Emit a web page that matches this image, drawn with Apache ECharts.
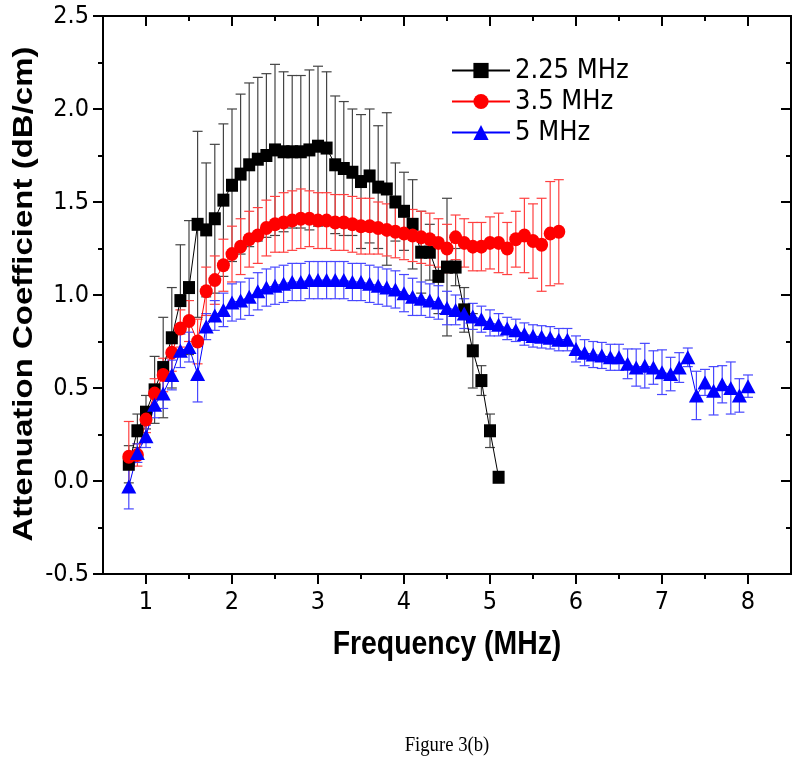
<!DOCTYPE html>
<html>
<head>
<meta charset="utf-8">
<script src="https://cdn.jsdelivr.net/npm/echarts@6/dist/echarts.min.js"></script>
<style>
html, body { margin: 0; padding: 0; background: #fff; }
#chart { width: 800px; height: 766px; }
</style>
</head>
<body>
<div id="chart"></div>
<script>
// 2.25 MHz transducer
var freq225 = [0.8, 0.9, 1.0, 1.1, 1.2, 1.3, 1.4, 1.5, 1.6, 1.7, 1.8, 1.9, 2.0, 2.1, 2.2, 2.3, 2.4, 2.5, 2.6, 2.7, 2.8, 2.9, 3.0, 3.1, 3.2, 3.3, 3.4, 3.5, 3.6, 3.7, 3.8, 3.9, 4.0, 4.1, 4.2, 4.3, 4.4, 4.5, 4.6, 4.7, 4.8, 4.9, 5.0, 5.1]
var att225 = [0.09, 0.27, 0.37, 0.49, 0.61, 0.77, 0.97, 1.04, 1.38, 1.35, 1.41, 1.51, 1.59, 1.65, 1.70, 1.73, 1.75, 1.78, 1.77, 1.77, 1.77, 1.78, 1.80, 1.79, 1.70, 1.68, 1.66, 1.61, 1.64, 1.58, 1.57, 1.50, 1.45, 1.38, 1.23, 1.23, 1.10, 1.15, 1.15, 0.92, 0.70, 0.54, 0.27, 0.02]
var err225 = [0.10, 0.09, 0.09, 0.18, 0.27, 0.27, 0.30, 0.36, 0.50, 0.36, 0.40, 0.41, 0.41, 0.43, 0.44, 0.44, 0.44, 0.46, 0.43, 0.41, 0.41, 0.43, 0.43, 0.41, 0.37, 0.36, 0.34, 0.36, 0.36, 0.33, 0.41, 0.21, 0.21, 0.24, 0.22, 0.15, 0.20, 0.37, 0.10, 0.12, 0.20, 0.08, 0.09, 0.02]

// 3.5 MHz transducer
var freq35 = [0.8, 0.9, 1.0, 1.1, 1.2, 1.3, 1.4, 1.5, 1.6, 1.7, 1.8, 1.9, 2.0, 2.1, 2.2, 2.3, 2.4, 2.5, 2.6, 2.7, 2.8, 2.9, 3.0, 3.1, 3.2, 3.3, 3.4, 3.5, 3.6, 3.7, 3.8, 3.9, 4.0, 4.1, 4.2, 4.3, 4.4, 4.5, 4.6, 4.7, 4.8, 4.9, 5.0, 5.1, 5.2, 5.3, 5.4, 5.5, 5.6, 5.7, 5.8]
var att35 = [0.13, 0.14, 0.33, 0.47, 0.57, 0.69, 0.82, 0.86, 0.75, 1.02, 1.08, 1.16, 1.22, 1.26, 1.30, 1.32, 1.36, 1.38, 1.39, 1.40, 1.41, 1.41, 1.40, 1.40, 1.39, 1.39, 1.38, 1.37, 1.37, 1.36, 1.35, 1.34, 1.33, 1.32, 1.31, 1.30, 1.28, 1.25, 1.31, 1.28, 1.26, 1.26, 1.28, 1.28, 1.25, 1.30, 1.32, 1.29, 1.27, 1.33, 1.34]
var err35 = [0.19, 0.06, 0.07, 0.08, 0.09, 0.10, 0.10, 0.11, 0.12, 0.13, 0.13, 0.14, 0.15, 0.15, 0.15, 0.15, 0.15, 0.15, 0.16, 0.16, 0.16, 0.15, 0.15, 0.15, 0.15, 0.15, 0.15, 0.15, 0.15, 0.14, 0.14, 0.14, 0.14, 0.14, 0.14, 0.14, 0.13, 0.13, 0.12, 0.13, 0.13, 0.13, 0.14, 0.16, 0.14, 0.15, 0.20, 0.20, 0.25, 0.28, 0.28]

// 5 MHz transducer
var freq5 = [0.8, 0.9, 1.0, 1.1, 1.2, 1.3, 1.4, 1.5, 1.6, 1.7, 1.8, 1.9, 2.0, 2.1, 2.2, 2.3, 2.4, 2.5, 2.6, 2.7, 2.8, 2.9, 3.0, 3.1, 3.2, 3.3, 3.4, 3.5, 3.6, 3.7, 3.8, 3.9, 4.0, 4.1, 4.2, 4.3, 4.4, 4.5, 4.6, 4.7, 4.8, 4.9, 5.0, 5.1, 5.2, 5.3, 5.4, 5.5, 5.6, 5.7, 5.8, 5.9, 6.0, 6.1, 6.2, 6.3, 6.4, 6.5, 6.6, 6.7, 6.8, 6.9, 7.0, 7.1, 7.2, 7.3, 7.4, 7.5, 7.6, 7.7, 7.8, 7.9, 8.0]
var att5 = [-0.03, 0.15, 0.24, 0.41, 0.47, 0.57, 0.70, 0.72, 0.575, 0.83, 0.89, 0.92, 0.96, 0.97, 0.99, 1.02, 1.04, 1.05, 1.06, 1.07, 1.07, 1.08, 1.08, 1.08, 1.08, 1.08, 1.07, 1.07, 1.06, 1.05, 1.04, 1.03, 1.01, 0.99, 0.98, 0.97, 0.96, 0.93, 0.92, 0.90, 0.885, 0.87, 0.85, 0.84, 0.82, 0.81, 0.79, 0.78, 0.775, 0.77, 0.76, 0.76, 0.71, 0.69, 0.68, 0.675, 0.665, 0.665, 0.63, 0.61, 0.62, 0.61, 0.585, 0.575, 0.61, 0.665, 0.46, 0.53, 0.485, 0.52, 0.50, 0.46, 0.51]
var err5 = [0.12, 0.05, 0.06, 0.07, 0.08, 0.08, 0.09, 0.08, 0.15, 0.07, 0.08, 0.09, 0.10, 0.10, 0.10, 0.10, 0.10, 0.10, 0.10, 0.10, 0.10, 0.10, 0.10, 0.10, 0.10, 0.10, 0.10, 0.10, 0.10, 0.10, 0.10, 0.10, 0.10, 0.10, 0.09, 0.09, 0.09, 0.09, 0.08, 0.08, 0.07, 0.07, 0.07, 0.06, 0.06, 0.06, 0.06, 0.06, 0.06, 0.06, 0.06, 0.06, 0.07, 0.07, 0.07, 0.07, 0.07, 0.07, 0.08, 0.10, 0.12, 0.09, 0.12, 0.09, 0.08, 0.05, 0.13, 0.07, 0.13, 0.10, 0.14, 0.09, 0.06]

var xTicks = [1, 2, 3, 4, 5, 6, 7, 8]
var xMinorTicks = [1.5, 2.5, 3.5, 4.5, 5.5, 6.5, 7.5]

var narrow = '"Liberation Sans Narrow", "DejaVu Sans Condensed", Arial, sans-serif'
var arialBold = 'bold 33px "Liberation Sans", Arial, sans-serif'

function zip (xs, ys, es) {
  return xs.map(function (x, i) {
    return es ? [x, ys[i], es[i]] : [x, ys[i]]
  })
}

// vertical error bar with caps
function errorBars (color, cap) {
  return function (params, api) {
    var x = api.value(0)
    var y = api.value(1)
    var e = api.value(2)
    var hi = api.coord([x, y + e])
    var lo = api.coord([x, y - e])
    var style = { stroke: color, lineWidth: 1.2 }
    return {
      type: 'group',
      children: [
        { type: 'line', shape: { x1: hi[0], y1: hi[1], x2: lo[0], y2: lo[1] }, style: style },
        { type: 'line', shape: { x1: hi[0] - cap, y1: hi[1], x2: hi[0] + cap, y2: hi[1] }, style: style },
        { type: 'line', shape: { x1: lo[0] - cap, y1: lo[1], x2: lo[0] + cap, y2: lo[1] }, style: style }
      ]
    }
  }
}

var black = { color: '#000', width: 2 }

function tickAxis (pos, values, len, inside, labels) {
  return {
    type: 'value',
    position: pos,
    min: 0.5,
    max: 8.5,
    axisLine: { show: true, onZero: false, lineStyle: black },
    axisTick: { show: true, inside: inside, length: len, customValues: values, lineStyle: black },
    axisLabel: labels ? {
      show: true, customValues: values, fontSize: 25, fontFamily: narrow, color: '#000', margin: 16
    } : { show: false },
    splitLine: { show: false }
  }
}

function yTickAxis (pos, inside, labels) {
  return {
    type: 'value',
    position: pos,
    min: -0.5,
    max: 2.5,
    interval: 0.5,
    axisLine: { show: true, onZero: false, lineStyle: black },
    axisTick: { show: true, inside: inside, length: 10, lineStyle: black },
    minorTick: { show: true, splitNumber: 2, length: 5, lineStyle: black },
    axisLabel: labels ? {
      show: true, fontSize: 25, fontFamily: narrow, color: '#000', margin: 14,
      formatter: function (v) { return v.toFixed(1) }
    } : { show: false },
    splitLine: { show: false }
  }
}

var chart = echarts.init(document.getElementById('chart'))

var option = {
  backgroundColor: '#fff',
  animation: false,
  grid: { left: 103, right: 9, top: 16, bottom: 192, containLabel: false },
  xAxis: [
    tickAxis('bottom', xTicks, 10, false, true),
    tickAxis('bottom', xMinorTicks, 5, false, false),
    tickAxis('top', xTicks, 10, true, false),
    tickAxis('top', xMinorTicks, 5, true, false)
  ],
  yAxis: [
    yTickAxis('left', false, true),
    yTickAxis('right', true, false)
  ],
  legend: {
    orient: 'vertical',
    left: 446,
    top: 52,
    itemWidth: 58,
    itemHeight: 19,
    itemGap: 4,
    data: ['2.25 MHz', '3.5 MHz', '5 MHz'],
    textStyle: { fontSize: 27, fontFamily: narrow, color: '#000' }
  },
  graphic: [
    {
      type: 'text',
      x: 25,
      y: 294,
      rotation: Math.PI / 2,
      scaleY: 0.82,
      style: {
        text: 'Attenuation Coefficient (dB/cm)',
        font: arialBold,
        fill: '#000',
        textAlign: 'center',
        textVerticalAlign: 'middle'
      }
    },
    {
      type: 'text',
      x: 447,
      y: 645,
      scaleX: 0.86,
      style: {
        text: 'Frequency (MHz)',
        font: arialBold,
        fill: '#000',
        textAlign: 'center',
        textVerticalAlign: 'middle'
      }
    },
    {
      type: 'text',
      x: 447,
      y: 745,
      scaleX: 0.85,
      style: {
        text: 'Figure 3(b)',
        font: '22px "Liberation Serif", "Times New Roman", serif',
        fill: '#000',
        textAlign: 'center',
        textVerticalAlign: 'middle'
      }
    }
  ],
  series: [
    {
      name: '2.25 MHz err',
      type: 'custom',
      renderItem: errorBars('#444', 5),
      encode: { x: 0, y: 1 },
      data: zip(freq225, att225, err225)
    },
    {
      name: '2.25 MHz',
      type: 'line',
      data: zip(freq225, att225),
      symbol: 'rect',
      symbolSize: [12, 13],
      color: '#000',
      itemStyle: { color: '#000' },
      lineStyle: { color: '#000', width: 1 }
    },
    {
      name: '3.5 MHz err',
      type: 'custom',
      renderItem: errorBars('#ff4040', 5),
      encode: { x: 0, y: 1 },
      data: zip(freq35, att35, err35)
    },
    {
      name: '3.5 MHz',
      type: 'line',
      data: zip(freq35, att35),
      symbol: 'circle',
      symbolSize: [13, 14],
      color: '#ff0000',
      itemStyle: { color: '#ff0000' },
      lineStyle: { color: '#ff0000', width: 1 }
    },
    {
      name: '5 MHz err',
      type: 'custom',
      renderItem: errorBars('#4848ff', 5),
      encode: { x: 0, y: 1 },
      data: zip(freq5, att5, err5)
    },
    {
      name: '5 MHz',
      type: 'line',
      data: zip(freq5, att5),
      symbol: 'triangle',
      symbolSize: [15, 14],
      color: '#0000ff',
      itemStyle: { color: '#0000ff' },
      lineStyle: { color: '#0000ff', width: 1 }
    }
  ]
}

chart.setOption(option)
</script>
</body>
</html>
